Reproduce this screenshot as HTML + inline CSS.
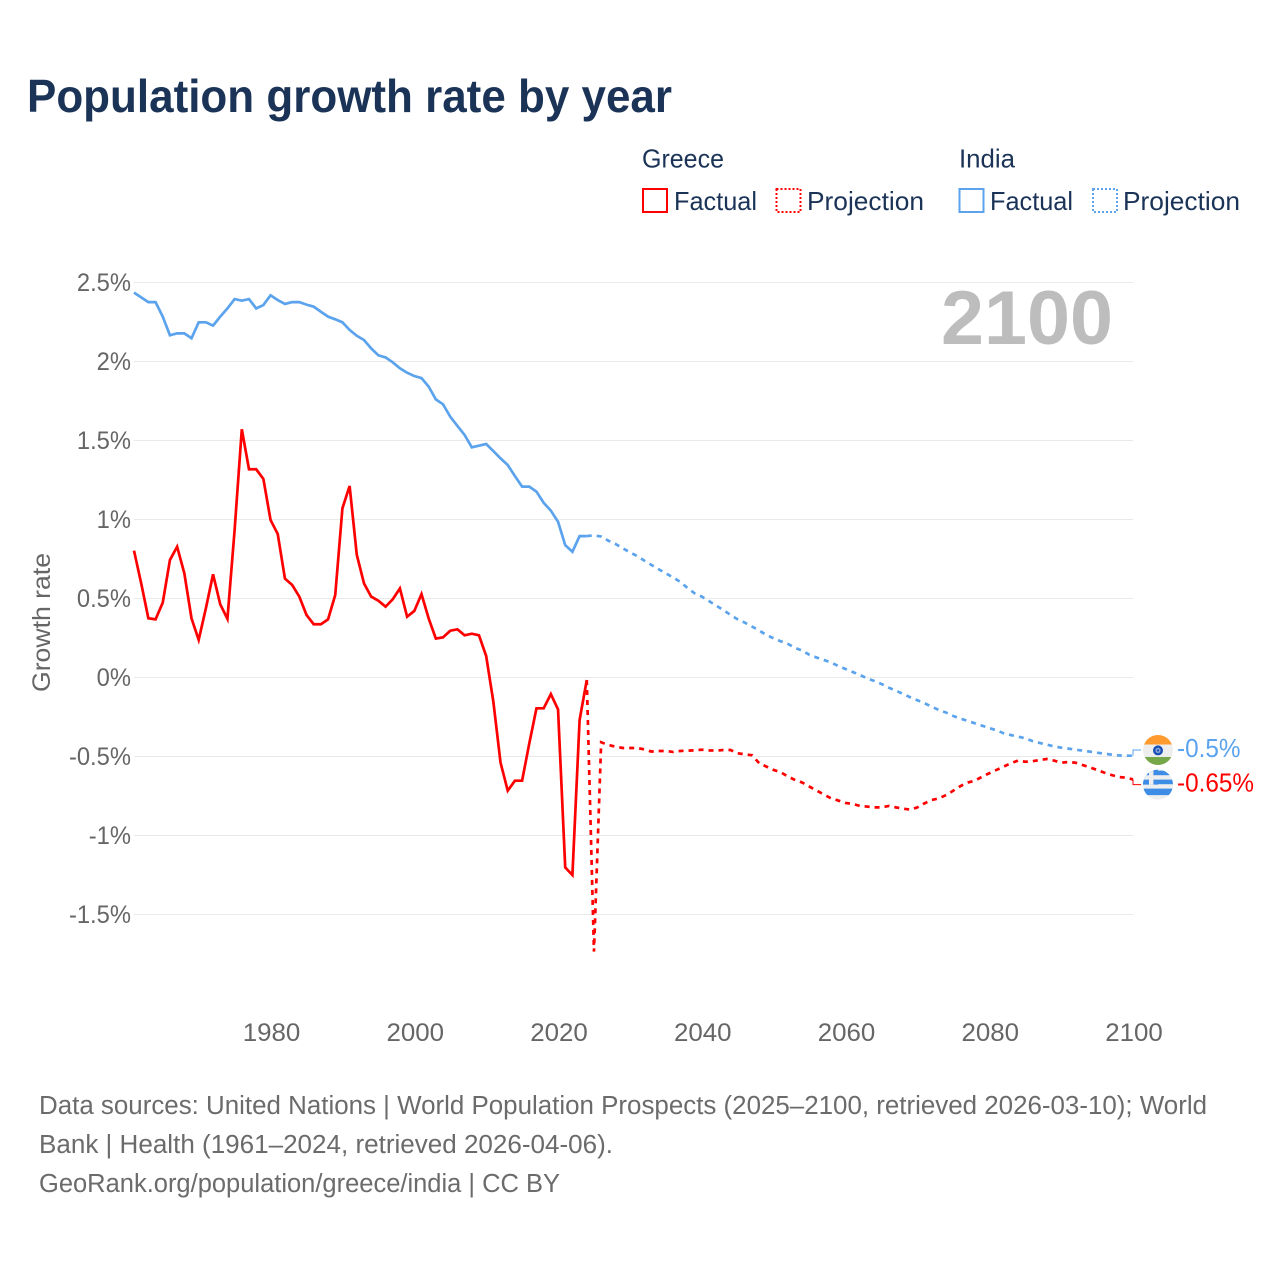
<!DOCTYPE html>
<html lang="en">
<head>
<meta charset="utf-8">
<title>Population growth rate by year</title>
<style>
html,body{margin:0;padding:0;background:#fff;}
svg{display:block;font-family:"Liberation Sans",sans-serif;}
</style>
</head>
<body>
<svg id="chart" xmlns="http://www.w3.org/2000/svg" width="1280" height="1280" viewBox="0 0 1280 1280">
  <rect x="0" y="0" width="1280" height="1280" fill="#ffffff"/>
  <text x="27" y="112" font-size="46" font-weight="700" fill="#1a3356" textLength="645" lengthAdjust="spacingAndGlyphs">Population growth rate by year</text>

  <g font-size="26" fill="#1a3356">
    <text x="642" y="167.5" textLength="82" lengthAdjust="spacingAndGlyphs">Greece</text>
    <text x="959" y="167.5" textLength="56" lengthAdjust="spacingAndGlyphs">India</text>
    <rect x="643" y="189" width="24" height="23" fill="none" stroke="#ff0000" stroke-width="2"/>
    <text x="674" y="210" textLength="83" lengthAdjust="spacingAndGlyphs">Factual</text>
    <rect x="776.5" y="189" width="24" height="23" fill="none" stroke="#ff0000" stroke-width="2" stroke-dasharray="2 2"/>
    <text x="807" y="210" textLength="117" lengthAdjust="spacingAndGlyphs">Projection</text>
    <rect x="959.5" y="189" width="24" height="23" fill="none" stroke="#5ba3ec" stroke-width="2"/>
    <text x="990" y="210" textLength="83" lengthAdjust="spacingAndGlyphs">Factual</text>
    <rect x="1093" y="189" width="24" height="23" fill="none" stroke="#5ba3ec" stroke-width="2" stroke-dasharray="2 2"/>
    <text x="1123" y="210" textLength="117" lengthAdjust="spacingAndGlyphs">Projection</text>
  </g>

  <g id="grid"></g>
  <text x="941" y="344" font-size="76" font-weight="700" fill="#bdbdbd" textLength="172" lengthAdjust="spacingAndGlyphs">2100</text>
  <g id="ytick" font-size="25" fill="#666666" text-anchor="end"></g>
  <g id="xtick" font-size="25" fill="#666666" text-anchor="middle"></g>
  <text transform="translate(50,692) rotate(-90)" font-size="25" fill="#666666" textLength="139" lengthAdjust="spacingAndGlyphs">Growth rate</text>
  <g id="series"></g>

  <defs>
    <clipPath id="clip-india"><circle cx="0" cy="0" r="15"/></clipPath>
    <clipPath id="clip-greece"><circle cx="0" cy="0" r="15"/></clipPath>
  </defs>
  <g id="flag-india">
    <g clip-path="url(#clip-india)">
      <rect x="-15" y="-15" width="30" height="9.5" fill="#ff9a2e"/>
      <rect x="-15" y="-5.5" width="30" height="12.5" fill="#eeeeee"/>
      <rect x="-15" y="7" width="30" height="8" fill="#76a84a"/>
      <circle cx="0" cy="0.4" r="5" fill="#1a50b5"/>
      <circle cx="0" cy="0.4" r="2.6" fill="#8fa8dc"/>
      <circle cx="0" cy="0.4" r="1.2" fill="#1a50b5"/>
    </g>
  </g>
  <g id="flag-greece">
    <g clip-path="url(#clip-greece)">
      <rect x="-15" y="-15" width="30" height="30" fill="#eeeeee"/>
      <rect x="-15" y="-14" width="30" height="4.6" fill="#3d8de6"/>
      <rect x="-15" y="-5" width="30" height="4.6" fill="#3d8de6"/>
      <rect x="-15" y="4" width="30" height="6.5" fill="#3d8de6"/>
      <rect x="-15" y="-15" width="15" height="15" fill="#3d8de6"/>
      <rect x="-9" y="-15" width="4.4" height="15" fill="#eeeeee"/>
      <rect x="-15" y="-9.4" width="15" height="4.4" fill="#eeeeee"/>
    </g>
  </g>
  <g id="endlabels" font-size="26"></g>

  <g font-size="25.5" fill="#6b6b6b">
    <text x="39" y="1114" textLength="1168" lengthAdjust="spacingAndGlyphs">Data sources: United Nations | World Population Prospects (2025–2100, retrieved 2026-03-10); World</text>
    <text x="39" y="1153" textLength="574" lengthAdjust="spacingAndGlyphs">Bank | Health (1961–2024, retrieved 2026-04-06).</text>
    <text x="39" y="1192" textLength="521" lengthAdjust="spacingAndGlyphs">GeoRank.org/population/greece/india | CC BY</text>
  </g>
</svg>
<script>
const factualYears = [1961,1962,1963,1964,1965,1966,1967,1968,1969,1970,1971,1972,1973,1974,1975,1976,1977,1978,1979,1980,1981,1982,1983,1984,1985,1986,1987,1988,1989,1990,1991,1992,1993,1994,1995,1996,1997,1998,1999,2000,2001,2002,2003,2004,2005,2006,2007,2008,2009,2010,2011,2012,2013,2014,2015,2016,2017,2018,2019,2020,2021,2022,2023,2024];
const projectionYears = [2024,2025,2026,2027,2028,2029,2030,2031,2032,2033,2034,2035,2036,2037,2038,2039,2040,2041,2042,2043,2044,2045,2046,2047,2048,2049,2050,2051,2052,2053,2054,2055,2056,2057,2058,2059,2060,2061,2062,2063,2064,2065,2066,2067,2068,2069,2070,2071,2072,2073,2074,2075,2076,2077,2078,2079,2080,2081,2082,2083,2084,2085,2086,2087,2088,2089,2090,2091,2092,2093,2094,2095,2096,2097,2098,2099,2100];
const indiaFactual = [2.436,2.406,2.376,2.376,2.284,2.166,2.178,2.178,2.147,2.248,2.248,2.227,2.284,2.336,2.395,2.385,2.395,2.336,2.357,2.419,2.389,2.364,2.376,2.376,2.36,2.347,2.315,2.284,2.267,2.248,2.2,2.163,2.136,2.083,2.039,2.026,1.995,1.957,1.929,1.908,1.895,1.841,1.76,1.729,1.651,1.592,1.535,1.457,1.467,1.478,1.433,1.387,1.345,1.275,1.208,1.208,1.176,1.106,1.056,0.986,0.838,0.796,0.895,0.895];
const greeceFactual = [0.803,0.596,0.375,0.368,0.474,0.744,0.828,0.66,0.375,0.238,0.438,0.653,0.463,0.371,0.934,1.571,1.318,1.318,1.257,0.997,0.908,0.626,0.586,0.512,0.396,0.337,0.337,0.368,0.522,1.071,1.212,0.776,0.596,0.512,0.486,0.448,0.495,0.564,0.385,0.421,0.528,0.374,0.246,0.254,0.296,0.305,0.267,0.277,0.267,0.136,-0.153,-0.539,-0.716,-0.653,-0.653,-0.417,-0.195,-0.195,-0.105,-0.202,-1.202,-1.25,-0.269,-0.016];
const indiaProjection = [0.895,0.9,0.892,0.866,0.845,0.818,0.792,0.769,0.74,0.712,0.685,0.659,0.634,0.605,0.567,0.533,0.512,0.484,0.455,0.427,0.396,0.368,0.347,0.322,0.297,0.269,0.248,0.229,0.212,0.187,0.17,0.143,0.126,0.111,0.094,0.073,0.054,0.035,0.016,-0.005,-0.022,-0.041,-0.064,-0.083,-0.104,-0.125,-0.144,-0.163,-0.185,-0.206,-0.222,-0.244,-0.26,-0.275,-0.29,-0.305,-0.32,-0.334,-0.353,-0.364,-0.374,-0.385,-0.402,-0.414,-0.425,-0.436,-0.444,-0.45,-0.457,-0.463,-0.469,-0.476,-0.482,-0.488,-0.493,-0.495,-0.495];
const greeceProjection = [-0.016,-1.735,-0.41,-0.427,-0.438,-0.446,-0.446,-0.446,-0.455,-0.469,-0.465,-0.465,-0.471,-0.465,-0.463,-0.461,-0.457,-0.461,-0.463,-0.459,-0.459,-0.48,-0.486,-0.492,-0.543,-0.564,-0.585,-0.6,-0.627,-0.649,-0.665,-0.691,-0.716,-0.741,-0.765,-0.779,-0.794,-0.8,-0.813,-0.817,-0.822,-0.822,-0.813,-0.822,-0.83,-0.836,-0.822,-0.796,-0.775,-0.765,-0.744,-0.716,-0.687,-0.665,-0.653,-0.628,-0.606,-0.585,-0.564,-0.543,-0.526,-0.533,-0.53,-0.522,-0.516,-0.526,-0.539,-0.535,-0.539,-0.554,-0.569,-0.585,-0.602,-0.617,-0.63,-0.634,-0.645];
const yTickValues = [2.5,2,1.5,1,0.5,0,-0.5,-1,-1.5];
const yTickLabels = ["2.5%","2%","1.5%","1%","0.5%","0%","-0.5%","-1%","-1.5%"];
const xTickYears = [1980,2000,2020,2040,2060,2080,2100];
const xTickLabels = ["1980","2000","2020","2040","2060","2080","2100"];
const endLabelIndia = "-0.5%";
const endLabelGreece = "-0.65%";

const NS = "http://www.w3.org/2000/svg";
const RED = "#ff0000";
const BLUE = "#5ba3ec";
function xScale(year){ return 134 + (year - 1961) * (999 / 139); }
function yScale(v){ return 677.5 - v * 158; }
function pathFrom(years, values){
  return values.map(function(v, i){
    return (i ? "L" : "M") + xScale(years[i]).toFixed(2) + " " + yScale(v).toFixed(2);
  }).join(" ");
}
function fitWidth(el, factor){
  el.setAttribute("textLength", (el.getComputedTextLength() * factor).toFixed(2));
  el.setAttribute("lengthAdjust", "spacingAndGlyphs");
}
const gridG = document.getElementById("grid");
const yG = document.getElementById("ytick");
const xG = document.getElementById("xtick");
const seriesG = document.getElementById("series");
const endG = document.getElementById("endlabels");

yTickValues.forEach(function(v, i){
  const ln = document.createElementNS(NS, "line");
  
  
  ln.setAttribute("x1", 134);
  ln.setAttribute("x2", 1133);
  ln.setAttribute("y1", yScale(v));
  ln.setAttribute("y2", yScale(v));
  ln.setAttribute("stroke", "#e9e9e9");
  ln.setAttribute("stroke-width", 1);
  gridG.appendChild(ln);
  const t = document.createElementNS(NS, "text");
  
  
  t.setAttribute("x", 131);
  t.setAttribute("y", yScale(v) + 8.5);
  t.textContent = yTickLabels[i];
  yG.appendChild(t);
  fitWidth(t, 0.95);
});

xTickYears.forEach(function(year, i){
  const t = document.createElementNS(NS, "text");
  
  
  t.setAttribute("x", xScale(year) + 1);
  t.setAttribute("y", 1041);
  t.textContent = xTickLabels[i];
  xG.appendChild(t);
  fitWidth(t, 1.035);
});

function addLine(name, years, values, color, dashed){
  const p = document.createElementNS(NS, "path");
  
  
  p.setAttribute("d", pathFrom(years, values));
  p.setAttribute("fill", "none");
  p.setAttribute("stroke", color);
  p.setAttribute("stroke-width", 2.7);
  p.setAttribute("stroke-linejoin", "miter");
  if (dashed) p.setAttribute("stroke-dasharray", "5 5");
  seriesG.appendChild(p);
}
addLine("india-factual-line", factualYears, indiaFactual, BLUE, false);
addLine("india-projection-line", projectionYears, indiaProjection, BLUE, true);
addLine("greece-factual-line", factualYears, greeceFactual, RED, false);
addLine("greece-projection-line", projectionYears, greeceProjection, RED, true);

function addEnd(lineName, labelName, values, color, text, flagId, offset){
  const lastV = values[values.length - 1];
  const yy = yScale(lastV);
  const fy = yy + offset;
  const c = document.createElementNS(NS, "path");
  
  
  c.setAttribute("d", "M1133 " + yy + " L1133 " + fy + " L1141 " + fy);
  c.setAttribute("fill", "none");
  c.setAttribute("stroke", color);
  c.setAttribute("stroke-width", 1);
  seriesG.appendChild(c);
  document.getElementById(flagId).setAttribute("transform", "translate(1158," + fy + ")");
  const t = document.createElementNS(NS, "text");
  
  
  t.setAttribute("x", 1177);
  t.setAttribute("y", fy + 7);
  t.setAttribute("fill", color);
  t.textContent = text;
  endG.appendChild(t);
  fitWidth(t, 0.935);
}
addEnd("india-end-connector", "india-end-value", indiaProjection, BLUE, endLabelIndia, "flag-india", -5.7);
addEnd("greece-end-connector", "greece-end-value", greeceProjection, RED, endLabelGreece, "flag-greece", 5.2);
</script>
</body>
</html>
